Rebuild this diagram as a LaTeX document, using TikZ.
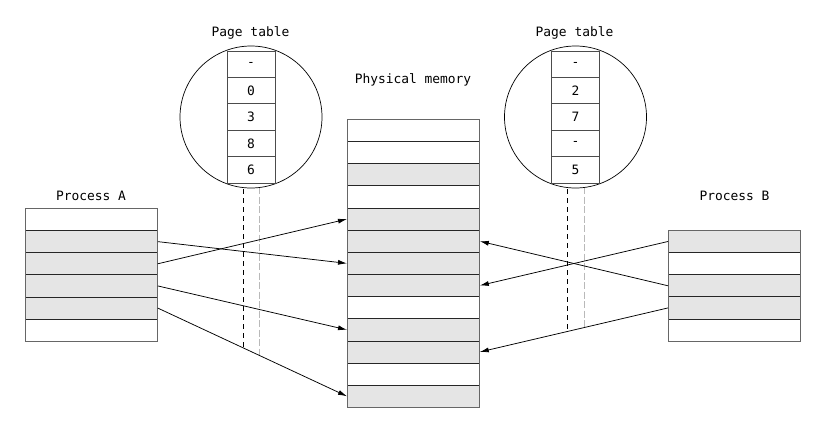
\documentclass[tikz,border=0pt]{standalone}
\usepackage{fontspec}
\setmonofont{DejaVu Sans Mono}
\usetikzlibrary{arrows.meta}
\definecolor{slotgray}{RGB}{229,229,229}
\definecolor{dashgray}{RGB}{185,185,185}
\begin{document}
\begin{tikzpicture}[x=1pt,y=-1pt,
  lbl/.style={font=\ttfamily\fontsize{12.9}{15}\selectfont, anchor=base, inner sep=0pt},
  slot/.style={draw=black!85, line width=0.8pt, minimum width=132pt, minimum height=22.15pt, inner sep=0pt, anchor=north west},
  f0/.style={fill=white},
  f1/.style={fill=slotgray},
  outerbox/.style={draw=black!60, line width=0.8pt},
  cell/.style={draw=black!70, line width=1pt, fill=white, minimum width=48pt, minimum height=26.4pt, inner sep=0pt, font=\ttfamily\fontsize{12.9}{15}\selectfont},
  lens/.style={circle, draw=black, line width=0.7pt, minimum size=142pt, inner sep=0pt},
  arr/.style={draw=black, line width=0.75pt, -{Latex[length=9pt,width=5pt]}},
  blackdash/.style={draw=black, line width=0.8pt, dash pattern=on 5pt off 4pt},
  graydash/.style={draw=dashgray, line width=0.8pt, dash pattern=on 7pt off 2.5pt}
]
\useasboundingbox (0,0) rectangle (827,434);

% labels
\node[lbl] (ltA) at (250.5,36.5) {Page table};
\node[lbl] (ltB) at (574.5,36.5) {Page table};
\node[lbl] (lmem) at (413,83) {Physical memory};
\node[lbl] (lpA) at (91,200) {Process A};
\node[lbl] (lpB) at (734.5,200) {Process B};

% dashed guide lines
\coordinate (dA1s) at (243,189); \coordinate (dA1e) at (243,347);
\coordinate (dA2s) at (259,187); \coordinate (dA2e) at (259,355);
\coordinate (dB1s) at (567,189); \coordinate (dB1e) at (567,331);
\coordinate (dB2s) at (584,187); \coordinate (dB2e) at (584,327);
\draw[blackdash] (dA1s) -- (dA1e);
\draw[graydash] (dA2s) -- (dA2e);
\draw[blackdash] (dB1s) -- (dB1e);
\draw[graydash] (dB2s) -- (dB2e);

% page tables
\node[lens] (cA) at (251,117) {};
\foreach \t [count=\i from 0] in {-,0,3,8,6}
  \node[cell] (pA\i) at (251,{64.2+26.4*\i}) {\t};
\node[lens] (cB) at (575.5,117) {};
\foreach \t [count=\i from 0] in {-,2,7,-,5}
  \node[cell] (pB\i) at (575.5,{64.2+26.4*\i}) {\t};

% physical memory
\foreach \f [count=\i from 0] in {0,0,1,0,1,1,1,1,0,1,1,0,1}
  \node[slot,f\f] (M\i) at (347,{119+22.15*\i}) {};
\draw[outerbox] (M0.north west) rectangle (M12.south east);

% process A
\foreach \f [count=\i from 0] in {0,1,1,1,1,0}
  \node[slot,f\f] (A\i) at (25,{208+22.15*\i}) {};
\draw[outerbox] (A0.north west) rectangle (A5.south east);

% process B
\foreach \f [count=\i from 0] in {1,0,1,1,0}
  \node[slot,f\f] (B\i) at (668,{230+22.15*\i}) {};
\draw[outerbox] (B0.north west) rectangle (B4.south east);

% mappings
\draw[arr] (A1.east) -- (M6.west);
\draw[arr] (A2.east) -- (M4.west);
\draw[arr] (A3.east) -- (M9.west);
\draw[arr] (A4.east) -- (M12.west);
\draw[arr] (B0.west) -- (M7.east);
\draw[arr] (B2.west) -- (M5.east);
\draw[arr] (B3.west) -- (M10.east);
\end{tikzpicture}
\end{document}
